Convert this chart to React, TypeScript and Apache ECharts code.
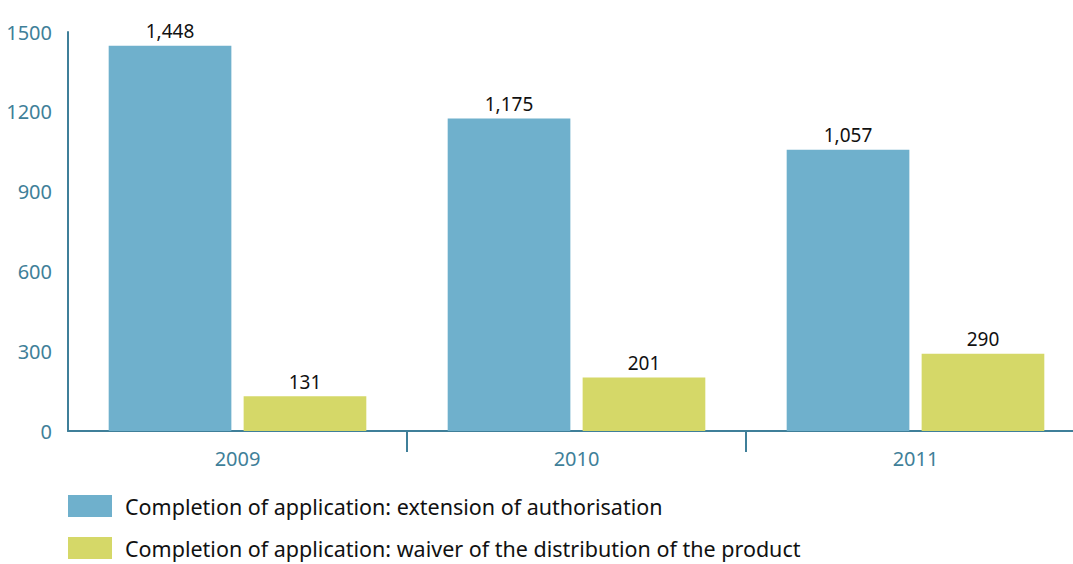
import React, { useEffect, useRef } from "react";
import * as echarts from "echarts";

const categories = ["2009", "2010", "2011"];
const extensionValues = [1448, 1175, 1057];
const waiverValues = [131, 201, 290];
const seriesNames = [
  "Completion of application: extension of authorisation",
  "Completion of application: waiver of the distribution of the product",
];

const TEAL = "#3f7f99";
const FONT = "'Noto Sans', 'Open Sans', sans-serif";

export default function App() {
  const ref = useRef<HTMLDivElement>(null);
  useEffect(() => {
    if (!ref.current) return;
    const chart = echarts.init(ref.current, null, { renderer: "svg" });
    const labelOpt = {
      show: true,
      position: "top",
      distance: 5,
      color: "#111",
      fontSize: 19,
      fontFamily: FONT,
      formatter: (p: any) => Number(p.value).toLocaleString("en-US"),
    };
    const legendBase = {
      orient: "vertical",
      left: 68,
      padding: 0,
      itemWidth: 44,
      itemHeight: 22,
      icon: "rect",
      textStyle: { fontSize: 21.5, color: "#111", fontFamily: FONT, padding: [0, 0, 0, 8] },
    };
    chart.setOption({
      animation: false,
      textStyle: { fontFamily: FONT },
      grid: {
        left: 68,
        width: 1017,
        top: 32,
        bottom: 133,
        containLabel: false,
        outerBoundsMode: "none",
      },
      legend: [
        { ...legendBase, top: 495, data: [seriesNames[0]] },
        { ...legendBase, top: 537, data: [seriesNames[1]] },
      ],
      xAxis: {
        type: "category",
        data: categories,
        axisLine: { lineStyle: { color: TEAL, width: 2 } },
        axisTick: {
          show: true,
          length: 21,
          lineStyle: { color: TEAL, width: 2 },
          interval: (i: number) => i !== 0,
        },
        axisLabel: { color: TEAL, fontSize: 20, margin: 17, fontFamily: FONT },
      },
      yAxis: {
        type: "value",
        min: 0,
        max: 1500,
        interval: 300,
        axisLine: { show: true, lineStyle: { color: TEAL, width: 2 } },
        axisTick: { show: false },
        splitLine: { show: false },
        axisLabel: {
          color: TEAL,
          fontSize: 20,
          margin: 16,
          fontFamily: FONT,
          formatter: (v: number) => String(v),
        },
      },
      series: [
        {
          name: seriesNames[0],
          type: "bar",
          data: extensionValues,
          itemStyle: { color: "#6fb0cc" },
          barGap: "10%",
          barCategoryGap: "24%",
          label: labelOpt,
        },
        {
          name: seriesNames[1],
          type: "bar",
          data: waiverValues,
          itemStyle: { color: "#d5d868" },
          barGap: "10%",
          barCategoryGap: "24%",
          label: labelOpt,
        },
      ],
    });
    return () => chart.dispose();
  }, []);
  return (
    <div
      ref={ref}
      style={{ position: "absolute", left: 0, top: 0, width: 1073, height: 564 }}
    />
  );
}
